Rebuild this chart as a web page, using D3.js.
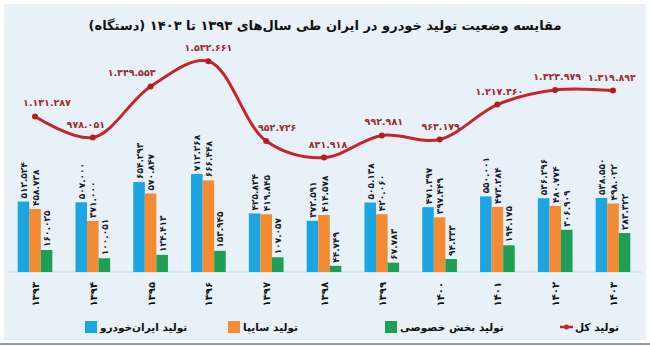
<!DOCTYPE html>
<html><head><meta charset="utf-8">
<script src="https://cdn.jsdelivr.net/npm/d3@7"></script>
<style>body{margin:0;background:#fff}svg{display:block;font-family:"DejaVu Sans",sans-serif}</style>
</head><body><svg id="c" width="650" height="347"></svg>
<script>
const years = ['۱۳۹۳','۱۳۹۴','۱۳۹۵','۱۳۹۶','۱۳۹۷','۱۳۹۸','۱۳۹۹','۱۴۰۰','۱۴۰۱','۱۴۰۲','۱۴۰۳'];
const ikco = [512524, 507000, 654293, 712268, 425824, 372591, 505138, 471397, 550001, 536296, 538550];
const saipa = [458738, 371000, 570847, 666448, 419845, 414578, 420060, 397449, 473284, 480774, 498022];
const privateSector = [160025, 100051, 124413, 153945, 107057, 44749, 67783, 94333, 194175, 306909, 283322];
const total = [1131287, 978051, 1349553, 1532661, 952726, 831918, 992981, 963179, 1217460, 1323979, 1319894];
const seriesNames = ['تولید ایران‌خودرو', 'تولید سایپا', 'تولید بخش خصوصی', 'تولید کل'];
const title = 'مقایسه وضعیت تولید خودرو در ایران طی سال‌های ۱۳۹۳ تا ۱۴۰۳ (دستگاه)';

const colors = ['#1ba6e2', '#f28b33', '#1f9f55', '#c4262c'];
const labelDx = [12, -7, -19, 0, 11, 4, 2, 1, 2, 2, -1];

const fa = n => d3.format(',')(n).replace(/,/g, '.').replace(/\d/g, d => '۰۱۲۳۴۵۶۷۸۹'[+d]);

const svg = d3.select('#c');
svg.append('rect').attr('x', 4).attr('y', 4).attr('width', 642).attr('height', 336).attr('fill', '#e8f1f7');
svg.append('line').attr('x1', 0).attr('x2', 650).attr('y1', 344).attr('y2', 344).attr('stroke', '#9a9a9a').attr('stroke-width', 2);

svg.append('text').attr('x', 325).attr('y', 30).attr('text-anchor', 'middle').attr('direction', 'rtl')
  .attr('font-size', 13).attr('font-weight', 'bold').attr('fill', '#111').text(title);

const x = d3.scaleBand().domain(years).range([6.1, 641.9]).paddingInner(0.4).paddingOuter(0.2);
const keys = ['ikco', 'saipa', 'priv'];
const xi = d3.scaleBand().domain(keys).range([0, x.bandwidth()]);
const y = d3.scaleLinear().domain([0, 1600000]).range([272, 52]);

// baseline
svg.append('line').attr('x1', 8).attr('x2', 642).attr('y1', y(0)).attr('y2', y(0)).attr('stroke', '#cfd8de').attr('stroke-width', 1);

const seriesVals = [ikco, saipa, privateSector];
const g = svg.append('g');
seriesVals.forEach((vals, si) => {
  const k = keys[si];
  g.selectAll('rect.s' + si).data(vals).join('rect')
    .attr('x', (d, i) => x(years[i]) + xi(k))
    .attr('y', d => y(d))
    .attr('width', xi.bandwidth())
    .attr('height', d => y(0) - y(d))
    .attr('fill', colors[si]);
  g.selectAll('text.s' + si).data(vals).join('text')
    .attr('transform', (d, i) => `translate(${x(years[i]) + xi(k) + xi.bandwidth() / 2 + 3.5},${y(d) - 3}) rotate(-90)`)
    .attr('text-anchor', 'start')
    .attr('font-size', 9).attr('font-weight', 'bold').attr('fill', '#1a1a2a')
    .text(d => fa(d));
});

// x axis labels
const xAxis = d3.axisBottom(x).tickSize(0).tickPadding(0);
const ax = svg.append('g').attr('transform', `translate(0,${y(0)})`).call(xAxis);
ax.select('.domain').remove();
ax.selectAll('text')
  .attr('transform', 'translate(4,10) rotate(-90)')
  .attr('dy', 0).attr('y', 0)
  .attr('text-anchor', 'end')
  .attr('font-size', 10).attr('font-weight', 'bold').attr('fill', '#111')
  .style('font-family', '"DejaVu Sans",sans-serif');

// total line
const cx = (d, i) => x(years[i]) + x.bandwidth() / 2;
const line = d3.line().x(cx).y(d => y(d)).curve(d3.curveCatmullRom.alpha(0.5));
svg.append('path').datum(total).attr('d', line).attr('fill', 'none').attr('stroke', colors[3]).attr('stroke-width', 3);
svg.selectAll('circle.t').data(total).join('circle').attr('cx', cx).attr('cy', d => y(d)).attr('r', 3).attr('fill', '#b01e24');
svg.selectAll('text.t').data(total).join('text')
  .attr('x', (d, i) => cx(d, i) + labelDx[i]).attr('y', d => y(d) - 10)
  .attr('text-anchor', 'middle').attr('font-size', 9.5).attr('font-weight', 'bold').attr('fill', '#9e2a2e')
  .text(d => fa(d));

// legend
const legX = [85, 228, 385, 560];
const lg = svg.append('g').attr('transform', 'translate(0,327)');
legX.forEach((lx, i) => {
  if (i < 3) {
    lg.append('rect').attr('x', lx).attr('y', -6).attr('width', 12).attr('height', 12).attr('fill', colors[i]);
  } else {
    lg.append('line').attr('x1', lx).attr('x2', lx + 13).attr('y1', 0).attr('y2', 0).attr('stroke', colors[3]).attr('stroke-width', 2.5);
    lg.append('circle').attr('cx', lx + 6.5).attr('cy', 0).attr('r', 2.5).attr('fill', colors[3]);
  }
  lg.append('text').attr('x', lx + 15).attr('y', 4).attr('text-anchor', 'start')
    .attr('font-size', 10.5).attr('font-weight', 'bold').attr('fill', '#111').text(seriesNames[i]);
});
</script></body></html>
